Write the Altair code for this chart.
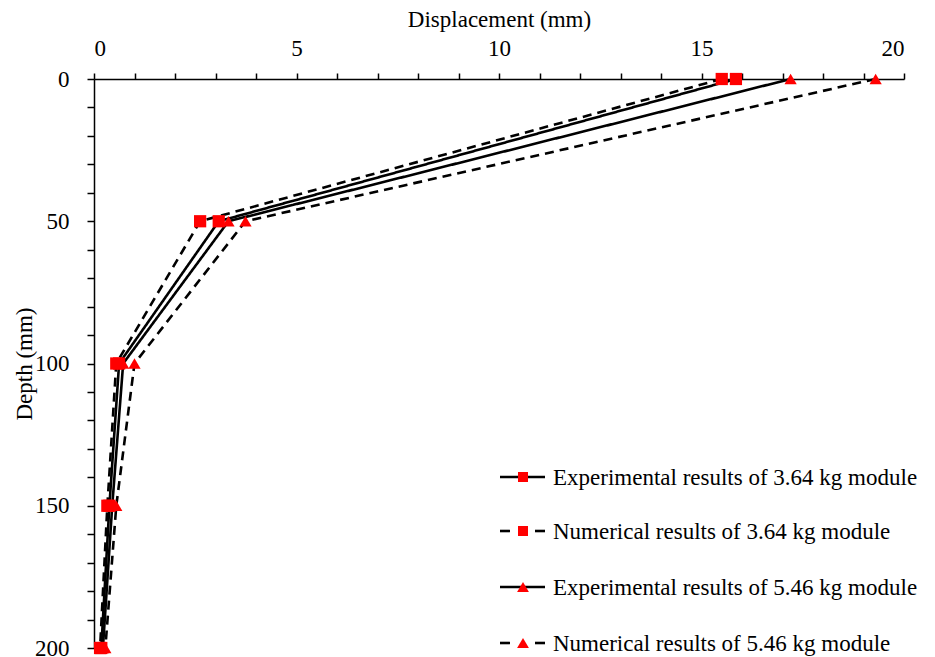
import altair as alt
import pandas as pd

# ---- data ----
depth = [0, 50, 100, 150, 200]
exp_364 = [15.85, 3.08, 0.62, 0.38, 0.18]
num_364 = [15.5, 2.62, 0.55, 0.33, 0.15]
exp_546 = [17.2, 3.32, 0.72, 0.45, 0.22]
num_546 = [19.3, 3.74, 1.0, 0.55, 0.28]

series_names = [
    "Experimental results of 3.64 kg module",
    "Numerical results of 3.64 kg module",
    "Experimental results of 5.46 kg module",
    "Numerical results of 5.46 kg module",
]
series_values = [exp_364, num_364, exp_546, num_546]
dashed = [False, True, False, True]
shapes = ["square", "square", "triangle-up", "triangle-up"]
marker_sizes = [150, 150, 250, 250]

rows = []
for name, vals in zip(series_names, series_values):
    for d, v in zip(depth, vals):
        rows.append({"series": name, "depth": d, "disp": v})
df = pd.DataFrame(rows)

FONT = "Liberation Serif"
FS = 23

x_enc = alt.X(
    "disp:Q",
    scale=alt.Scale(domain=[0, 20], nice=False),
    axis=alt.Axis(
        orient="top",
        values=list(range(0, 21)),
        labelExpr="datum.value % 5 == 0 ? datum.label : ''",
        labelFontSize={"condition": {"test": "datum.value % 5 != 0", "value": 0}, "value": FS},
        title="Displacement (mm)",
        tickSize=6,
        labelPadding=13,
        titlePadding=6,
        labelOverlap=False,
    ),
)
y_enc = alt.Y(
    "depth:Q",
    scale=alt.Scale(domain=[0, 200], reverse=True, nice=False),
    axis=alt.Axis(
        values=list(range(0, 201, 10)),
        labelExpr="datum.value % 50 == 0 ? datum.label : ''",
        labelFontSize={"condition": {"test": "datum.value % 50 != 0", "value": 0}, "value": FS},
        title="Depth (mm)",
        tickSize=7,
        labelPadding=18,
        titlePadding=-2,
        labelOverlap=False,
    ),
)

lines = alt.Chart(df).mark_line(color="black", strokeWidth=2.6).encode(
    x=x_enc,
    y=y_enc,
    detail="series:N",
    order="depth:Q",
    strokeDash=alt.StrokeDash(
        "series:N",
        scale=alt.Scale(domain=series_names,
                        range=[[1, 0] if not d else [9, 6] for d in dashed]),
        legend=None,
    ),
)

points = alt.Chart(df).mark_point(filled=True, color="#ff0000", opacity=1).encode(
    x=x_enc,
    y=y_enc,
    shape=alt.Shape("series:N",
                    scale=alt.Scale(domain=series_names, range=shapes),
                    legend=None),
    size=alt.Size("series:N",
                  scale=alt.Scale(domain=series_names, range=marker_sizes),
                  legend=None),
)

layers = [lines, points]

# ---- manual legend (inside plot, lower right) ----
leg_df = pd.DataFrame({"series": series_names})
leg_y = [398, 452, 508, 564]
lx0, lx1, lm = 406, 451, 429
for i, name in enumerate(series_names):
    sub = alt.Chart(leg_df).transform_filter(alt.datum.series == name)
    if dashed[i]:
        layers.append(sub.mark_rule(color="black", strokeWidth=2.6).encode(
            x=alt.value(lx0), x2=alt.value(lx0 + 10), y=alt.value(leg_y[i])))
        layers.append(sub.mark_rule(color="black", strokeWidth=2.6).encode(
            x=alt.value(lx1 - 10), x2=alt.value(lx1), y=alt.value(leg_y[i])))
    else:
        layers.append(sub.mark_rule(color="black", strokeWidth=2.6).encode(
            x=alt.value(lx0), x2=alt.value(lx1), y=alt.value(leg_y[i])))
    layers.append(sub.mark_point(filled=True, color="#ff0000", opacity=1,
                                 shape=shapes[i], size=100 if i < 2 else 140).encode(
        x=alt.value(lm), y=alt.value(leg_y[i])))
    layers.append(sub.mark_text(align="left", baseline="middle", font=FONT,
                                fontSize=FS, color="black").encode(
        x=alt.value(lx1 + 8), y=alt.value(leg_y[i] + 1), text="series:N"))

chart = alt.layer(*layers).properties(
    width=810,
    height=569,
    autosize=alt.AutoSizeParams(type="none"),
    padding={"left": 94, "top": 79, "right": 31, "bottom": 9},
).configure_view(stroke=None).configure_axis(
    grid=False,
    domainColor="black",
    domainWidth=1.5,
    tickColor="black",
    tickWidth=1.5,
    labelFont=FONT,
    labelColor="black",
    labelOverlap=False,
    titleFont=FONT,
    titleFontSize=FS,
    titleFontWeight="normal",
    titleColor="black",
)

chart.save("out.html", embed_options={"renderer": "svg", "actions": False})
